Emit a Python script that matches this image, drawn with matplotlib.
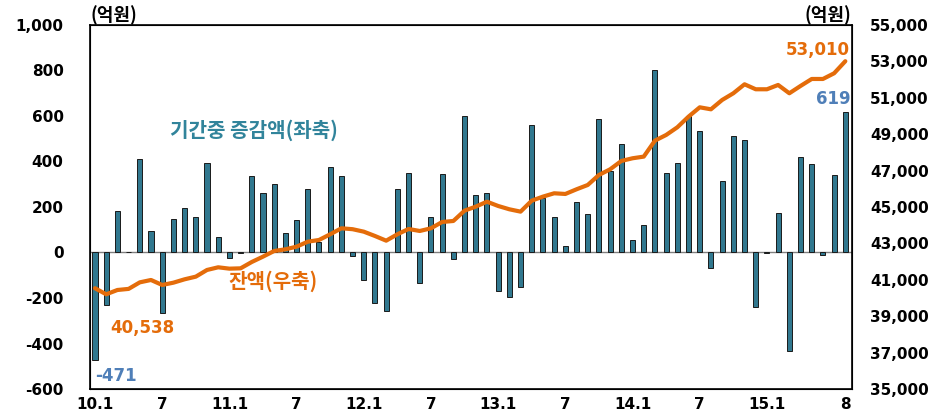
import matplotlib
matplotlib.use("Agg")
import matplotlib.pyplot as plt
import numpy as np

plt.rcParams['font.family'] = ['Noto Sans CJK KR', 'DejaVu Sans']
NUM_FONT = ['DejaVu Sans']

changes = [-471, -230, 183, 3, 412, 94, -266, 149, 197, 154, 395, 66,
           -26, -3, 336, 260, 303, 86, 142, 278, 45, 377, 336, -15,
           -121, -222, -259, 281, 351, -136, 154, 344, -29, 599, 251, 263,
           -171, -197, -151, 560, 241, 154, 28, 224, 168, 588, 360, 475,
           57, 121, 801, 351, 395, 602, 532, -70, 314, 513, 494, -238,
           -3, 175, -431, 418, 389, -13, 342, 619]
balance = [40538, 40203, 40440, 40500, 40860, 40990, 40715, 40842, 41027, 41173, 41540, 41687,
           41612, 41630, 41979, 42272, 42583, 42675, 42820, 43094, 43188, 43500, 43830, 43780,
           43645, 43407, 43150, 43500, 43792, 43682, 43830, 44177, 44232, 44800, 45020, 45292,
           45056, 44874, 44745, 45349, 45570, 45753, 45716, 45973, 46210, 46760, 47072, 47530,
           47677, 47768, 48647, 48957, 49380, 49965, 50477, 50367, 50880, 51248, 51742, 51468,
           51468, 51705, 51248, 51650, 52034, 52034, 52347, 53010]
tick_idx = [0, 6, 12, 18, 24, 30, 36, 42, 48, 54, 60, 67]
tick_labels = ['10.1', '7', '11.1', '7', '12.1', '7', '13.1', '7', '14.1', '7', '15.1', '8']
left_ticks = [-600, -400, -200, 0, 200, 400, 600, 800, 1000]
right_ticks = [35000, 37000, 39000, 41000, 43000, 45000, 47000, 49000, 51000, 53000, 55000]

bar_color = '#31788F'
line_color = '#E46C0A'
label_blue = '#4F7FB8'
teal_text = '#31849B'

fig = plt.figure(figsize=(9.42, 4.13), dpi=100)
ax = fig.add_axes([0.0955, 0.0581, 0.809, 0.8814])
x = np.arange(len(changes))
ax.bar(x, changes, width=0.45, color=bar_color, edgecolor='#1a1a1a', linewidth=0.7, zorder=2)
ax.axhline(0, color='#808080', linewidth=1.0, zorder=1)
ax.set_ylim(-600, 1000)
ax.set_xlim(-0.45, 67.6)
ax.set_yticks(left_ticks)
ax.set_yticklabels([f'{v:,}' for v in left_ticks], fontsize=11, fontweight='bold', family=NUM_FONT)
ax.set_xticks(tick_idx)
ax.set_xticklabels(tick_labels, fontsize=11, fontweight='bold', family=NUM_FONT)
ax.tick_params(axis='y', length=0, pad=19)
ax.tick_params(axis='x', length=0, pad=6)
for s in ax.spines.values():
    s.set_linewidth(1.2)
    s.set_color('black')

ax2 = ax.twinx()
ax2.plot(x, balance, color=line_color, linewidth=3, zorder=3, solid_capstyle='round')
ax2.set_ylim(35000, 55000)
ax2.set_yticks(right_ticks)
ax2.set_yticklabels([f'{v:,}' for v in right_ticks], fontsize=11, fontweight='bold', family=NUM_FONT)
ax2.tick_params(axis='y', length=0, pad=13)
ax2.set_xlim(-0.45, 67.6)

fig.text(0.096, 0.962, '(억원)', fontsize=13, fontweight='bold', ha='left', va='center')
fig.text(0.904, 0.962, '(억원)', fontsize=13, fontweight='bold', ha='right', va='center')

fig.text(0.18, 0.685, '기간중 증감액(좌축)', fontsize=14.5, fontweight='bold', color=teal_text, ha='left', va='center')
fig.text(0.242, 0.32, '잔액(우축)', fontsize=14.5, fontweight='bold', color=line_color, ha='left', va='center')
ax2.annotate(f'{balance[0]:,}', xy=(0, balance[0]), xytext=(11, -29), textcoords='offset points',
             fontsize=12, fontweight='bold', color=line_color, ha='left', va='center', family=NUM_FONT)
ax.annotate(f'{changes[0]:,}', xy=(0, changes[0]), xytext=(0, -12), textcoords='offset points',
            fontsize=12, fontweight='bold', color=label_blue, ha='left', va='center', family=NUM_FONT)
ax2.annotate(f'{balance[-1]:,}', xy=(67, balance[-1]), xytext=(3, 8), textcoords='offset points',
             fontsize=12, fontweight='bold', color=line_color, ha='right', va='center', family=NUM_FONT)
ax.annotate(f'{changes[-1]}', xy=(67, changes[-1]), xytext=(4, 9), textcoords='offset points',
            fontsize=12, fontweight='bold', color=label_blue, ha='right', va='center', family=NUM_FONT)

fig.savefig('out.png', dpi=100)
